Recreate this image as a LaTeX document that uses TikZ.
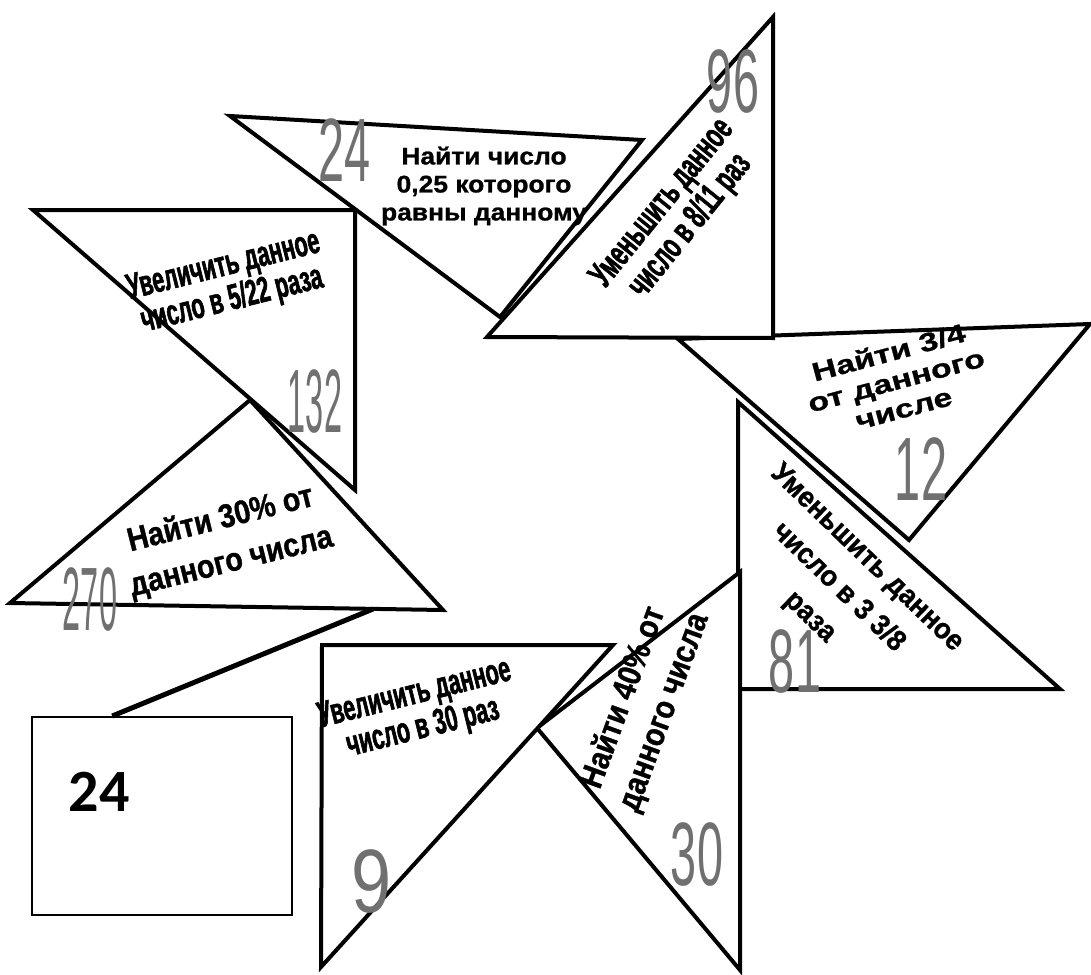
\documentclass[tikz,border=0pt]{standalone}
\usepackage{fontspec}
\usepackage{graphicx}
\usetikzlibrary{calc}
\setmainfont{Liberation Sans}
\newfontface\condB[FakeStretch=0.6,FakeBold=1.5]{Liberation Sans Bold}
\newfontface\midB[FakeStretch=0.87,FakeBold=1]{Liberation Sans Bold}
\newfontface\sixB[FakeStretch=0.93,FakeBold=1]{Liberation Sans Bold}
\newfontface\wideB[FakeStretch=1.1,FakeBold=1]{Liberation Sans Bold}
\newfontface\xwideB[FakeStretch=1.3,FakeBold=1]{Liberation Sans Bold}
\newfontface\numA[FakeStretch=0.52]{Liberation Sans}
\newfontface\numB[FakeStretch=0.36]{Liberation Sans}
\newfontface\numC[FakeStretch=0.8]{Liberation Sans}
\newfontface\boxfont{Carlito Bold}
\newcommand\tightlines{\lineskiplimit=-50pt\relax}
\definecolor{numgray}{RGB}{112,112,112}
\tikzset{
  tri/.style={draw=black, line width=4, fill=white, line join=miter},
  txt/.style={inner sep=0, align=center, text=black},
  num/.style={inner sep=0, text=numgray},
  linkline/.style={draw=black, line width=5},
  answerbox/.style={draw=black, line width=2, minimum width=260, minimum height=198, inner sep=0}
}
\begin{document}
\begin{tikzpicture}[x=1pt, y=-1pt]
\useasboundingbox (0,0) rectangle (1091,974);
% triangles
\draw[tri] (678,339) -- (1090,324) -- (909,540) -- cycle;
\draw[tri] (230,116) -- (642,140) -- (500,317) -- cycle;
\draw[tri] (487,337) -- (773,17) -- (773,338) -- cycle;
\draw[tri] (33,210) -- (355,210) -- (355,490) -- cycle;
\draw[tri] (10,603) -- (250,400) -- (443,610) -- cycle;
\draw[tri] (738,402) -- (1060,689) -- (738,689) -- cycle;
\draw[tri] (537,728) -- (740,572) -- (740,970) -- cycle;
\draw[tri] (322,645) -- (613,645) -- (321,967) -- cycle;
% gray numbers
\node[num, font=\numA\fontsize{90}{90}\selectfont] (n24) at (345,150) {24};
\node[num, font=\numA\fontsize{90}{90}\selectfont] (n96) at (733,82) {96};
\node[num, font=\numB\fontsize{90}{90}\selectfont] (n132) at (315,402) {132};
\node[num, font=\numB\fontsize{90}{90}\selectfont] (n270) at (90,600) {270};
\node[num, font=\numA\fontsize{90}{90}\selectfont] (n12) at (921,469) {12};
\node[num, font=\numA\fontsize{90}{90}\selectfont] (n81) at (795,662) {81};
\node[num, font=\numA\fontsize{90}{90}\selectfont] (n30) at (697,855) {30};
\node[num, font=\numC\fontsize{90}{90}\selectfont] (n9) at (372,882) {9};
% tasks
\node[txt, font=\wideB\fontsize{24}{28}\selectfont\tightlines] (t1) at (484,186) {Найти число\\0,25 которого\\равны данному};
\node[txt, rotate=51, font=\condB\fontsize{36}{36}\selectfont\tightlines] (t2) at (677,215) {Уменьшить данное\\число в 8/11 раз};
\node[txt, rotate=14, font=\condB\fontsize{36}{35}\selectfont\tightlines] (t3) at (228,284) {Увеличить данное\\число в 5/22 раза};
\node[txt, rotate=14, font=\midB\fontsize{33}{44}\selectfont\tightlines] (t4) at (226,541) {Найти 30\% от\\данного числа};
\node[txt, rotate=15, font=\xwideB\fontsize{26}{29}\selectfont\tightlines] (t5) at (896,380) {Найти 3/4\\от данного\\числе};
\node[txt, rotate=-44, font=\sixB\fontsize{29}{41}\selectfont\tightlines] (t6) at (838,588) {Уменьшить данное\\число в 3 3/8\\раза};
\node[txt, rotate=70, font=\midB\fontsize{33}{43}\selectfont\tightlines] (t7) at (644,705) {Найти 40\% от\\данного числа};
\node[txt, rotate=14, font=\condB\fontsize{36}{35}\selectfont\tightlines] (t8) at (419,712) {Увеличить данное\\число в 30 раз};
% answer box
\node[answerbox] (box) at (162,816) {};
\node[inner sep=0, font=\boxfont\fontsize{60}{60}\selectfont] (boxnum) at (99,792) {24};
\coordinate (c1) at (373,609);
\draw[linkline] ($(box.north west)!0.31!(box.north east)$) -- (c1);
\end{tikzpicture}
\end{document}
